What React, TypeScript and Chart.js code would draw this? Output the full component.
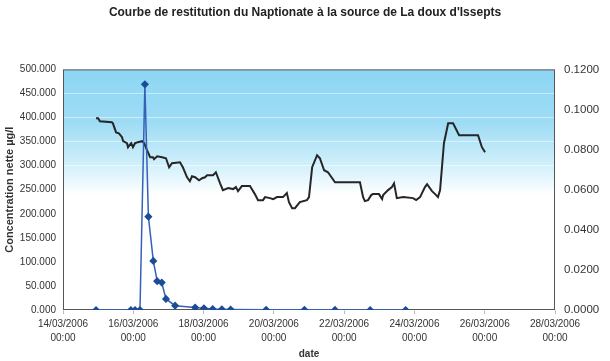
import { useEffect, useRef } from "react";
import { Chart, registerables } from "chart.js";

Chart.register(...registerables);

const TITLE = "Courbe de restitution du Naptionate à la source de La doux d'Issepts";
const Y_LEFT_TITLE = "Concentration nette µg/l";
const X_TITLE = "date";

// time in days since 14/03/2006 00:00
const concDays = [0.94, 1.93, 2.05, 2.19, 2.33, 2.43, 2.57, 2.68, 2.81, 2.93, 3.19, 3.76, 4.01, 4.26, 4.52, 4.77, 5.78, 6.87, 7.74, 8.74, 9.75];
const concValues = [0, 0, 0, 0, 469, 194, 102, 60, 57, 23, 9, 5, 3.5, 2, 1.5, 1, 0.5, 0.3, 0.2, 0.1, 0.1];

const flowDays = [
  0.94, 1.0, 1.05, 1.39, 1.42, 1.51, 1.59, 1.68, 1.71, 1.82, 1.85, 1.94, 1.99, 2.05, 2.13, 2.25, 2.31, 2.39,
  2.48, 2.56, 2.59, 2.68, 2.82, 2.93, 3.02, 3.1, 3.33, 3.41, 3.53, 3.61, 3.67, 3.76, 3.87, 3.96, 4.04, 4.1,
  4.27, 4.35, 4.47, 4.55, 4.7, 4.84, 4.92, 4.98, 5.09, 5.32, 5.46, 5.55, 5.69, 5.75, 5.89, 5.98, 6.09, 6.26,
  6.37, 6.43, 6.52, 6.6, 6.74, 6.94, 7.0, 7.09, 7.23, 7.31, 7.43, 7.54, 7.74, 7.8, 8.45, 8.54, 8.59, 8.68,
  8.77, 8.82, 8.99, 9.08, 9.11, 9.25, 9.36, 9.42, 9.5, 9.68, 9.96, 10.05, 10.16, 10.3, 10.36, 10.5, 10.59,
  10.67, 10.73, 10.84, 10.96, 11.1, 11.27, 11.81, 11.92, 12.01,
];
const flowValues = [
  0.0956, 0.0956, 0.0941, 0.0936, 0.0931, 0.0886, 0.0881, 0.0862, 0.0842, 0.0832, 0.0812, 0.0832, 0.0812,
  0.0832, 0.0837, 0.0842, 0.0832, 0.0797, 0.0762, 0.0762, 0.0752, 0.0767, 0.0762, 0.0757, 0.0712, 0.0732,
  0.0737, 0.0712, 0.0662, 0.0642, 0.0667, 0.0662, 0.0647, 0.0657, 0.0662, 0.0672, 0.0672, 0.0687, 0.0632,
  0.0598, 0.0608, 0.0603, 0.0613, 0.0593, 0.0618, 0.0618, 0.0578, 0.0548, 0.0548, 0.0563, 0.0558, 0.0553,
  0.0563, 0.0563, 0.0583, 0.0538, 0.0508, 0.0508, 0.0538, 0.0548, 0.0563, 0.0712, 0.0772, 0.0757, 0.0697,
  0.0687, 0.0637, 0.0637, 0.0637, 0.0563, 0.0543, 0.0548, 0.0573, 0.0578, 0.0578, 0.0553, 0.0573, 0.0598,
  0.0613, 0.0632, 0.0558, 0.0563, 0.0558, 0.0548, 0.0563, 0.0613, 0.0627, 0.0593, 0.0578, 0.0563, 0.0598,
  0.0832, 0.0931, 0.0931, 0.0872, 0.0872, 0.0812, 0.0787,
];

const X_START_DAY = 14;
const X_MONTH_YEAR = "03/2006";
const X_TIME = "00:00";

const FONT = "'Liberation Sans', Arial, sans-serif";

const bgPlugin = {
  id: "bgPlugin",
  beforeDraw(chart: any) {
    const { ctx, chartArea: a } = chart;
    ctx.save();
    ctx.fillStyle = "#ffffff";
    ctx.fillRect(0, 0, chart.width, chart.height);
    const g = ctx.createLinearGradient(0, a.top, 0, a.bottom);
    g.addColorStop(0, "#8dd6f3");
    g.addColorStop(0.22, "#9edcf5");
    g.addColorStop(0.4, "#d2f0fb");
    g.addColorStop(0.52, "#ffffff");
    g.addColorStop(1, "#ffffff");
    ctx.fillStyle = g;
    ctx.fillRect(a.left, a.top, a.right - a.left, a.bottom - a.top);
    ctx.restore();
  },
  beforeDatasetsDraw(chart: any) {
    const { ctx, chartArea: a } = chart;
    ctx.save();
    ctx.strokeStyle = "#555555";
    ctx.lineWidth = 1;
    ctx.strokeRect(a.left + 0.5, a.top + 0.5, a.right - a.left - 1, a.bottom - a.top - 1);
    ctx.restore();
  },
};

export default function App() {
  const ref = useRef<HTMLCanvasElement | null>(null);

  useEffect(() => {
    if (!ref.current) return;
    const chart = new Chart(ref.current, {
      type: "line",
      data: {
        datasets: [
          {
            label: "Concentration",
            data: concDays.map((d, i) => ({ x: d, y: concValues[i] })),
            yAxisID: "y",
            borderColor: "#3561b8",
            borderWidth: 1.5,
            pointStyle: "rectRot",
            pointRadius: 3,
            pointBackgroundColor: "#1c4c98",
            pointBorderColor: "#1c4c98",
            tension: 0,
            order: 1,
          },
          {
            label: "Débit",
            data: flowDays.map((d, i) => ({ x: d, y: flowValues[i] })),
            yAxisID: "y2",
            borderColor: "#262626",
            borderWidth: 2,
            pointRadius: 0,
            tension: 0,
            order: 2,
          },
        ],
      },
      options: {
        responsive: false,
        animation: false,
        devicePixelRatio: 1,
        layout: { padding: 0 },
        plugins: {
          legend: { display: false },
          tooltip: { enabled: false },
          title: {
            display: true,
            text: TITLE,
            color: "#222222",
            font: { family: FONT, size: 12, weight: "bold" },
            padding: { top: 5, bottom: 50 },
          },
        },
        scales: {
          x: {
            type: "linear",
            min: 0,
            max: 14,
            afterFit: (s: any) => {
              s.height = 51;
            },
            ticks: {
              stepSize: 2,
              color: "#333333",
              font: { family: FONT, size: 10, lineHeight: 1.4 },
              padding: 3,
              maxRotation: 0,
              autoSkip: false,
              callback: (v: any) => {
                const day = X_START_DAY + Number(v);
                return [`${String(day).padStart(2, "0")}/${X_MONTH_YEAR}`, X_TIME];
              },
            },
            grid: { drawOnChartArea: false, drawTicks: true, tickLength: 4, color: "#bbbbbb" },
            border: { display: false },
            title: {
              display: true,
              text: X_TITLE,
              color: "#333333",
              font: { family: FONT, size: 10, weight: "bold" },
              padding: { top: 1, bottom: 1 },
            },
          },
          y: {
            position: "left",
            min: 0,
            max: 500,
            afterFit: (s: any) => {
              s.width = 63;
            },
            ticks: {
              stepSize: 50,
              color: "#333333",
              font: { family: FONT, size: 10 },
              padding: 7,
              callback: (v: any) => Number(v).toFixed(3),
            },
            grid: { color: "rgba(255,255,255,0.5)", drawTicks: false },
            border: { display: false },
            title: {
              display: true,
              text: Y_LEFT_TITLE,
              color: "#333333",
              font: { family: FONT, size: 11, weight: "bold" },
              padding: { top: 3, bottom: 4 },
            },
          },
          y2: {
            position: "right",
            min: 0,
            max: 0.12,
            afterFit: (s: any) => {
              s.width = 55;
            },
            ticks: {
              stepSize: 0.02,
              color: "#333333",
              font: { family: FONT, size: 11.5 },
              padding: 9,
              callback: (v: any) => Number(v).toFixed(4),
            },
            grid: { display: false, drawTicks: false },
            border: { display: false },
          },
        },
      },
      plugins: [bgPlugin],
    } as any);
    return () => chart.destroy();
  }, []);

  return (
    <div style={{ position: "fixed", left: 0, top: 0, width: 610, height: 361, background: "#fff" }}>
      <canvas ref={ref} width={610} height={361} style={{ display: "block" }} />
    </div>
  );
}
